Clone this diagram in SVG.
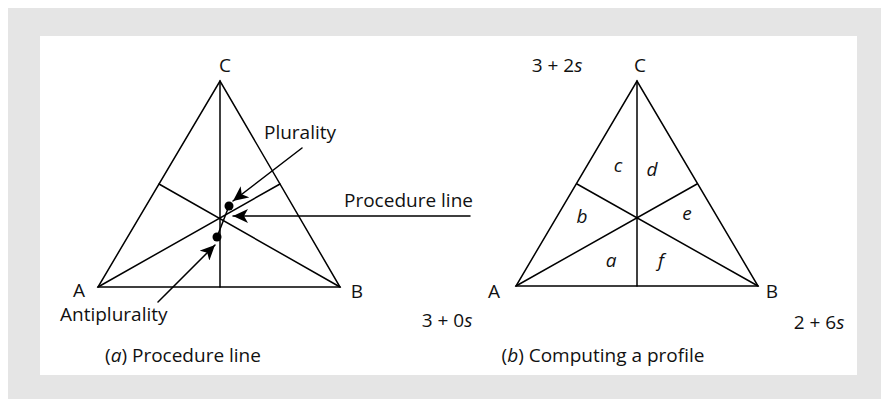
<svg xmlns="http://www.w3.org/2000/svg" width="881" height="399" viewBox="0 0 881 399">
<defs>
<style>
.ln{stroke:#000;stroke-width:1.5;fill:none;stroke-linecap:round}
.t{font-family:"Open Sans","DejaVu Sans",sans-serif;font-size:19px;fill:#111}
.i{font-style:italic}
</style>
<marker id="ah" markerUnits="userSpaceOnUse" markerWidth="16" markerHeight="14" viewBox="0 0 16 14" refX="15" refY="7" orient="auto">
<path d="M0,0 L15,7 L0,14 L4,7 Z" fill="#000"/>
</marker>
</defs>
<rect x="8" y="8" width="873" height="391" fill="#e5e5e5"/>
<rect x="40" y="36" width="817" height="339" fill="#fff"/>

<g id="triangle-a">
<path class="ln" d="M98,287 L340,287 L220,81 Z"/>
<line class="ln" x1="220" y1="81" x2="220" y2="287"/>
<line class="ln" x1="98" y1="287" x2="280" y2="184"/>
<line class="ln" x1="340" y1="287" x2="159" y2="184"/>
<text class="t" x="225" y="72" text-anchor="middle">C</text>
<text class="t" x="79" y="297" text-anchor="middle">A</text>
<text class="t" x="357" y="298" text-anchor="middle">B</text>
</g>

<g id="procedure-line">
<line class="ln" x1="217" y1="237" x2="229" y2="206"/>
<circle cx="229" cy="206" r="4.5" fill="#000"/>
<circle cx="217" cy="237" r="4.5" fill="#000"/>
</g>

<g id="labels-a">
<text class="t" x="300" y="139" text-anchor="middle">Plurality</text>
<text class="t" x="344" y="207">Procedure line</text>
<text class="t" x="60" y="321">Antiplurality</text>
<text class="t" x="183" y="362" text-anchor="middle">(<tspan class="i">a</tspan>) Procedure line</text>
</g>

<g id="connectors">
<line class="ln" x1="302" y1="148" x2="233" y2="201" marker-end="url(#ah)"/>
<line class="ln" x1="470" y1="216" x2="233" y2="216" marker-end="url(#ah)"/>
<line class="ln" x1="158" y1="302" x2="215" y2="245" marker-end="url(#ah)"/>
</g>

<g id="triangle-b">
<path class="ln" d="M516,286 L758,286 L637,81 Z"/>
<line class="ln" x1="637" y1="81" x2="637" y2="286"/>
<line class="ln" x1="516" y1="286" x2="697" y2="184"/>
<line class="ln" x1="758" y1="286" x2="577" y2="184"/>
<text class="t" x="640" y="72" text-anchor="middle">C</text>
<text class="t" x="494" y="298" text-anchor="middle">A</text>
<text class="t" x="772" y="298" text-anchor="middle">B</text>
<text class="t i" x="618" y="172" text-anchor="middle">c</text>
<text class="t i" x="652" y="176" text-anchor="middle">d</text>
<text class="t i" x="582" y="223" text-anchor="middle">b</text>
<text class="t i" x="687" y="220" text-anchor="middle">e</text>
<text class="t i" x="611" y="267" text-anchor="middle">a</text>
<text class="t i" x="661" y="267" text-anchor="middle">f</text>
</g>

<g id="labels-b">
<text class="t" x="557" y="72" text-anchor="middle">3 + 2<tspan class="i">s</tspan></text>
<text class="t" x="447" y="327" text-anchor="middle">3 + 0<tspan class="i">s</tspan></text>
<text class="t" x="819" y="329" text-anchor="middle">2 + 6<tspan class="i">s</tspan></text>
<text class="t" x="603" y="362" text-anchor="middle">(<tspan class="i">b</tspan>) Computing a profile</text>
</g>
</svg>
